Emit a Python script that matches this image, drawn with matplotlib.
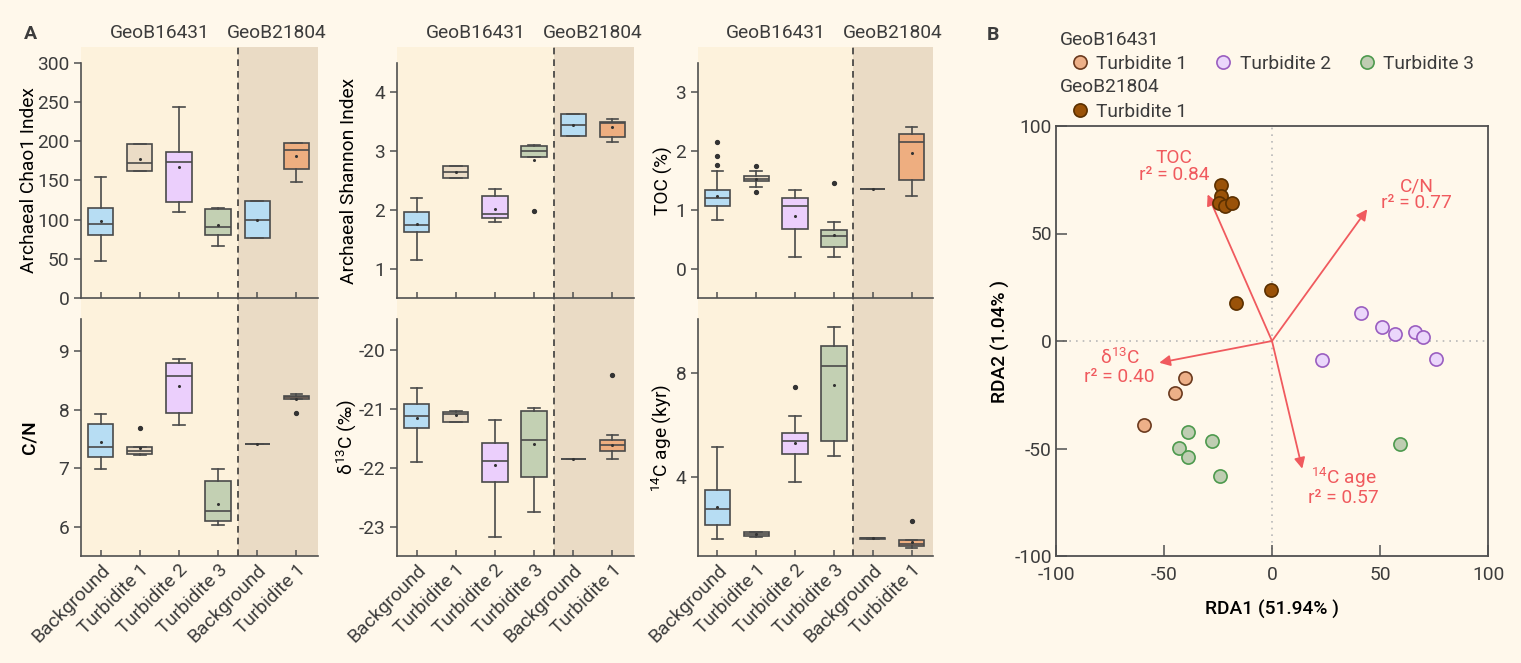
import matplotlib.pyplot as plt
from matplotlib.lines import Line2D

plt.rcParams['font.family'] = ['Roboto', 'DejaVu Sans']
plt.rcParams['mathtext.default'] = 'regular'
plt.rcParams['axes.unicode_minus'] = False
plt.rcParams['font.size'] = 13.8
plt.rcParams['text.color'] = '#3c3c3c'

# Données : catégories
groups = ["Background", "Turbidite 1", "Turbidite 2", "Turbidite 3",
          "Background", "Turbidite 1"]

# boîtes : (whislo, q1, med, q3, whishi, mean)
chao1 = [(47.7, 80.4, 94.5, 114.5, 155.0, 98.7),
         (162.0, 162.0, 172.0, 196.6, 196.6, 177.0),
         (110.0, 122.0, 173.0, 187.0, 244.0, 167.0),
         (67.0, 80.0, 90.0, 114.0, 115.0, 93.0),
         (76.0, 76.0, 100.0, 124.0, 124.0, 100.0),
         (148.0, 164.7, 188.5, 197.4, 197.4, 181.7)]
chao1_fliers = [[], [], [], [], [], []]

shannon = [(1.14, 1.63, 1.74, 1.97, 2.21, 1.76),
           (2.55, 2.55, 2.65, 2.74, 2.74, 2.65),
           (1.80, 1.86, 1.93, 2.23, 2.36, 2.02),
           (2.90, 2.90, 3.00, 3.09, 3.11, 2.85),
           (3.26, 3.26, 3.45, 3.63, 3.63, 3.45),
           (3.16, 3.24, 3.48, 3.49, 3.55, 3.41)]
shannon_fliers = [[], [], [], [1.98], [], []]

toc = [(0.83, 1.06, 1.20, 1.33, 1.66, 1.23),
       (1.39, 1.49, 1.53, 1.58, 1.67, 1.53),
       (0.19, 0.67, 1.06, 1.20, 1.33, 0.89),
       (0.19, 0.37, 0.56, 0.66, 0.80, 0.565),
       (1.36, 1.36, 1.36, 1.36, 1.36, 1.36),
       (1.24, 1.51, 2.15, 2.29, 2.41, 1.97)]
toc_fliers = [[2.16, 1.92, 1.77], [1.75, 1.31], [], [1.45], [], []]

cn = [(6.99, 7.20, 7.36, 7.75, 7.92, 7.44),
      (7.23, 7.24, 7.30, 7.36, 7.36, 7.35),
      (7.74, 7.94, 8.58, 8.80, 8.87, 8.40),
      (6.03, 6.10, 6.27, 6.78, 6.99, 6.39),
      (7.41, 7.41, 7.41, 7.41, 7.41, 7.41),
      (8.18, 8.18, 8.22, 8.24, 8.27, 8.19)]
cn_fliers = [[], [7.68], [], [], [], [7.95]]

d13c = [(-21.90, -21.33, -21.12, -20.92, -20.64, -21.15),
        (-21.22, -21.22, -21.08, -21.05, -21.03, -21.11),
        (-23.18, -22.24, -21.88, -21.58, -21.18, -21.96),
        (-22.76, -22.16, -21.52, -21.03, -20.98, -21.60),
        (-21.85, -21.85, -21.85, -21.85, -21.85, -21.85),
        (-21.85, -21.71, -21.61, -21.52, -21.45, -21.61)]
d13c_fliers = [[], [], [], [], [], [-20.43]]

c14 = [(1.64, 2.17, 2.79, 3.52, 5.15, 2.89),
       (1.71, 1.75, 1.83, 1.91, 1.91, 1.83),
       (3.81, 4.88, 5.41, 5.71, 6.34, 5.32),
       (4.82, 5.39, 8.27, 9.02, 9.76, 7.53),
       (1.66, 1.66, 1.68, 1.70, 1.70, 1.68),
       (1.29, 1.38, 1.45, 1.61, 1.61, 1.55)]
c14_fliers = [[], [], [7.45], [], [], [2.33]]

# RDA : scores des échantillons
t1_x = [-40.4, -45.1, -59.1]
t1_y = [-17.0, -24.2, -38.9]
t2_x = [41.2, 51.1, 57.1, 66.4, 69.9, 23.0, 75.9]
t2_y = [13.2, 6.4, 3.4, 4.4, 1.9, -9.0, -8.4]
t3_x = [-39.0, -27.9, -43.1, -38.9, -24.2, 59.4]
t3_y = [-42.2, -46.5, -49.9, -54.1, -62.9, -47.7]
b21_x = [-23.6, -23.6, -24.4, -21.8, -18.4, -0.5, -16.5]
b21_y = [72.4, 67.3, 64.2, 62.8, 64.4, 23.7, 17.7]

# RDA : variables environnementales
env_names = ["TOC", "C/N", "δ$^{13}$C", "$^{14}$C age"]
env_r2 = [0.84, 0.77, 0.40, 0.57]
env_x = [-29.8, 44.1, -52.2, 14.0]
env_y = [68.2, 61.3, -10.1, -59.4]
label_pos = [(-45.5, 81.0), (67.0, 68.0), (-70.5, -12.0), (33.0, -67.7)]

# couleurs
FIG_BG = '#FFF8EB'
LEFT_BG = '#FDF2DC'
RIGHT_BG = '#EADBC5'
EDGE = '#4a4a4a'
RED = '#F05A5E'
box_colors = ['#B7DDF3', '#EBDCC6', '#EBCFFC', '#C3D0B3', '#B7DDF3', '#EEAE80']

W, H = 1521, 663


def rect(x0, y0, x1, y1):
    return [x0 / W, 1 - y1 / H, (x1 - x0) / W, (y1 - y0) / H]


def draw_boxes(ax, stats, fliers):
    bstats = []
    for (lo, q1, med, q3, hi, mean), fl in zip(stats, fliers):
        bstats.append(dict(whislo=lo, q1=q1, med=med, q3=q3, whishi=hi,
                           mean=mean, fliers=fl))
    art = ax.bxp(bstats, positions=range(1, 7), widths=0.65, capwidths=0.3,
                 patch_artist=True, showmeans=True,
                 boxprops=dict(edgecolor=EDGE, linewidth=1.2),
                 whiskerprops=dict(color=EDGE, linewidth=1.2),
                 capprops=dict(color=EDGE, linewidth=1.2),
                 medianprops=dict(color=EDGE, linewidth=1.2),
                 meanprops=dict(marker='o', markersize=1.2, markerfacecolor='#333333',
                                markeredgecolor='#333333'),
                 flierprops=dict(marker='o', markersize=2.8, markerfacecolor='#333333',
                                 markeredgecolor='#333333'))
    for patch, c in zip(art['boxes'], box_colors):
        patch.set_facecolor(c)


def style_axis(ax):
    for s in ['top', 'right']:
        ax.spines[s].set_visible(False)
    for s in ['left', 'bottom']:
        ax.spines[s].set_color('#505050')
        ax.spines[s].set_linewidth(1.2)
    ax.patch.set_alpha(0)
    ax.tick_params(axis='x', direction='in', length=4, width=1.1, color='#505050',
                   labelcolor='#3c3c3c')
    ax.tick_params(axis='y', direction='out', length=5, width=1.1, color='#505050',
                   labelcolor='#3c3c3c')
    ax.set_xlim(0.5, 6.55)
    ax.set_xticks(range(1, 7))


fig = plt.figure(figsize=(15.21, 6.63), dpi=100, facecolor=FIG_BG)

columns = [
    (81, 318, chao1, chao1_fliers, "Archaeal Chao1 Index", (0, 300), range(0, 301, 50),
     cn, cn_fliers, "C/N", (5.5, 9.55), [6, 7, 8, 9], -0.181),
    (397, 634, shannon, shannon_fliers, "Archaeal Shannon Index", (0.5, 4.5), [1, 2, 3, 4],
     d13c, d13c_fliers, "δ$^{13}$C (‰)", (-23.5, -19.47), [-23, -22, -21, -20], -0.165),
    (698, 933, toc, toc_fliers, "TOC (%)", (-0.5, 3.5), [0, 1, 2, 3],
     c14, c14_fliers, "$^{14}$C age (kyr)", (1.0, 10.05), [4, 8], -0.106),
]

for (x0, x1, st_top, fl_top, lab_top, lim_top, tk_top,
     st_bot, fl_bot, lab_bot, lim_bot, tk_bot, lab_x) in columns:
    bg = fig.add_axes(rect(x0, 47, x1, 556), zorder=0)
    bg.set_xlim(0.5, 6.55)
    bg.set_ylim(0, 1)
    bg.axvspan(0.5, 4.5, color=LEFT_BG, lw=0)
    bg.axvspan(4.5, 6.55, color=RIGHT_BG, lw=0)
    bg.axvline(4.5, color='#3c3c3c', ls=(0, (4, 3)), lw=1.2)
    bg.axis('off')
    bg.text(2.5, 1 + 14 / 509, "GeoB16431", ha='center', va='center',
            transform=bg.get_xaxis_transform())
    bg.text(5.5, 1 + 14 / 509, "GeoB21804", ha='center', va='center',
            transform=bg.get_xaxis_transform())

    ax1 = fig.add_axes(rect(x0, 63, x1, 298), zorder=1)
    draw_boxes(ax1, st_top, fl_top)
    style_axis(ax1)
    ax1.set_ylim(*lim_top)
    ax1.set_yticks(list(tk_top))
    ax1.set_xticklabels([])
    ax1.set_ylabel(lab_top)
    ax1.yaxis.set_label_coords(lab_x, 0.5)

    ax2 = fig.add_axes(rect(x0, 319, x1, 556), zorder=1)
    draw_boxes(ax2, st_bot, fl_bot)
    style_axis(ax2)
    ax2.set_ylim(*lim_bot)
    ax2.set_yticks(tk_bot)
    ax2.set_xticklabels(groups, rotation=45, ha='right', rotation_mode='anchor')
    ax2.set_ylabel(lab_bot, fontweight='medium' if lab_bot == "C/N" else 'normal')
    ax2.yaxis.set_label_coords(lab_x, 0.5)

fig.text(30 / W, 1 - 34 / H, "A", fontsize=14, fontweight='bold', ha='center', va='center')
fig.text(993 / W, 1 - 35 / H, "B", fontsize=14, fontweight='bold', ha='center', va='center')

# Panel B : RDA
axb = fig.add_axes(rect(1056, 126, 1488, 556))
axb.patch.set_alpha(0)
axb.set_xlim(-100, 100)
axb.set_ylim(-100, 100)
axb.axhline(0, color='#b8b8b8', ls=(0, (1, 3)), lw=1.2, zorder=1)
axb.axvline(0, color='#b8b8b8', ls=(0, (1, 3)), lw=1.2, zorder=1)
for s in axb.spines.values():
    s.set_color('#505050')
    s.set_linewidth(1.3)
axb.tick_params(direction='in', length=8, width=1.1, color='#505050', labelcolor='#3c3c3c')
axb.tick_params(axis='x', pad=7)
axb.tick_params(axis='y', pad=3)
axb.set_xticks([-100, -50, 0, 50, 100])
axb.set_yticks([-100, -50, 0, 50, 100])
axb.set_xlabel("RDA1 (51.94% )", fontweight='medium')
axb.set_ylabel("RDA2 (1.04% )", fontweight='medium')
axb.xaxis.set_label_coords(0.5, -0.102)
axb.yaxis.set_label_coords(-0.106, 0.5)

for i in range(len(env_names)):
    axb.annotate('', xy=(env_x[i], env_y[i]), xytext=(0, 0),
                 arrowprops=dict(arrowstyle='-|>', color=RED, lw=1.3,
                                 mutation_scale=16, shrinkA=0, shrinkB=0), zorder=2)
    lx, ly = label_pos[i]
    axb.text(lx, ly, f"{env_names[i]}\nr² = {env_r2[i]:.2f}", color=RED,
             ha='center', va='center', linespacing=0.95, zorder=4)

mk = dict(s=90, linewidths=1.2, zorder=3)
axb.scatter(t1_x, t1_y, c='#EDB088', edgecolors='#6B3A1E', **mk)
axb.scatter(t2_x, t2_y, c='#EBD7FB', edgecolors='#9A5EC0', **mk)
axb.scatter(t3_x, t3_y, c='#BFCDB2', edgecolors='#4E9A4E', **mk)
axb.scatter(b21_x, b21_y, c='#9A5208', edgecolors='#5B3000', **mk)

# légende
def handle(fc, ec):
    return Line2D([], [], marker='o', ls='none', markersize=9.5, markerfacecolor=fc,
                  markeredgecolor=ec, markeredgewidth=1.2)

fig.text(1060 / W, 1 - 40 / H, "GeoB16431", va='center')
fig.text(1060 / W, 1 - 87.5 / H, "GeoB21804", va='center')
fig.legend([handle('#EDB088', '#6B3A1E'), handle('#EBD7FB', '#9A5EC0'),
            handle('#BFCDB2', '#4E9A4E')],
           ["Turbidite 1", "Turbidite 2", "Turbidite 3"], ncol=3, loc='center left',
           bbox_to_anchor=(1072 / W, 1 - 64 / H), frameon=False, handlelength=0.8,
           handletextpad=0.45, columnspacing=1.5, borderpad=0, borderaxespad=0)
fig.legend([handle('#9A5208', '#5B3000')], ["Turbidite 1"], loc='center left',
           bbox_to_anchor=(1072 / W, 1 - 112 / H), frameon=False, handlelength=0.8,
           handletextpad=0.45, borderpad=0, borderaxespad=0)

plt.savefig("out.png", dpi=100, facecolor=FIG_BG)
